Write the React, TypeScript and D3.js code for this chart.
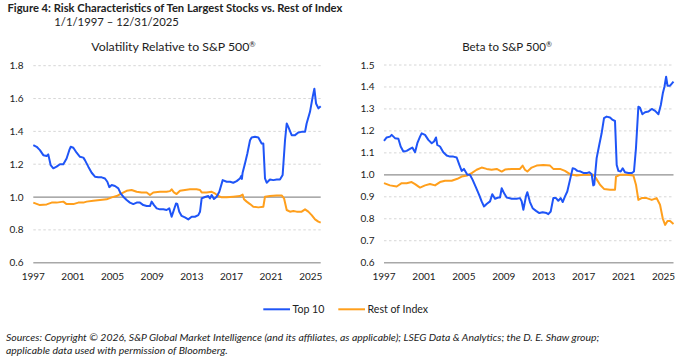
import React from "react";
import * as d3 from "d3";

// ---------- DATA ----------
const xTicks = [1997, 2001, 2005, 2009, 2013, 2017, 2021, 2025];
const volTicks = [0.6, 0.8, 1.0, 1.2, 1.4, 1.6, 1.8];
const betaTicks = [0.6, 0.7, 0.8, 0.9, 1.0, 1.1, 1.2, 1.3, 1.4, 1.5];

// Volatility relative to S&P 500 — Top 10
const volTopYears = [1997.0, 1997.34, 1997.67, 1998.01, 1998.35, 1998.51, 1998.75, 1999.02, 1999.35, 1999.69, 2000.03, 2000.36, 2000.63, 2000.77, 2001.04, 2001.37, 2001.71, 2002.05, 2002.21, 2002.55, 2002.89, 2003.22, 2003.56, 2003.9, 2004.23, 2004.47, 2004.67, 2004.91, 2005.24, 2005.58, 2005.81, 2006.08, 2006.42, 2006.75, 2007.09, 2007.43, 2007.76, 2008.1, 2008.44, 2008.77, 2008.94, 2009.18, 2009.45, 2009.78, 2010.12, 2010.45, 2010.72, 2010.96, 2011.13, 2011.4, 2011.53, 2011.73, 2011.97, 2012.3, 2012.64, 2012.98, 2013.31, 2013.65, 2013.82, 2013.99, 2014.32, 2014.66, 2014.83, 2015.0, 2015.23, 2015.5, 2015.77, 2016.11, 2016.51, 2016.85, 2017.18, 2017.52, 2017.85, 2018.0, 2018.05, 2018.12, 2018.36, 2018.6, 2018.87, 2019.03, 2019.37, 2019.71, 2020.04, 2020.21, 2020.38, 2020.55, 2020.88, 2021.22, 2021.56, 2021.89, 2022.16, 2022.4, 2022.57, 2022.73, 2023.07, 2023.41, 2023.74, 2024.08, 2024.42, 2024.58, 2024.92, 2025.19, 2025.36, 2025.53, 2025.77, 2026.0];
const volTopValues = [1.316, 1.306, 1.286, 1.255, 1.25, 1.26, 1.195, 1.175, 1.185, 1.2, 1.2, 1.235, 1.285, 1.306, 1.3, 1.27, 1.245, 1.24, 1.225, 1.185, 1.148, 1.124, 1.12, 1.12, 1.113, 1.093, 1.06, 1.073, 1.067, 1.053, 1.022, 1.002, 0.982, 0.966, 0.957, 0.966, 0.966, 0.951, 0.945, 0.945, 0.972, 0.951, 0.931, 0.925, 0.925, 0.921, 0.931, 0.88, 0.911, 0.961, 0.958, 0.911, 0.885, 0.876, 0.864, 0.88, 0.88, 0.89, 0.91, 0.992, 1.0, 1.006, 0.992, 1.012, 0.988, 1.002, 1.032, 1.103, 1.093, 1.093, 1.087, 1.097, 1.113, 1.13, 1.11, 1.148, 1.205, 1.265, 1.346, 1.363, 1.367, 1.363, 1.326, 1.326, 1.113, 1.087, 1.107, 1.103, 1.107, 1.107, 1.134, 1.346, 1.448, 1.427, 1.377, 1.377, 1.393, 1.397, 1.397, 1.448, 1.519, 1.61, 1.66, 1.57, 1.54, 1.553];

// Volatility relative to S&P 500 — Rest of Index
const volRestYears = [1997.0, 1997.67, 1998.35, 1998.85, 1999.35, 2000.03, 2000.36, 2001.04, 2001.54, 2002.05, 2002.38, 2003.05, 2003.73, 2004.4, 2004.91, 2005.41, 2005.91, 2006.42, 2006.92, 2007.43, 2007.93, 2008.44, 2008.77, 2009.11, 2009.78, 2010.45, 2010.79, 2010.96, 2011.19, 2011.46, 2011.8, 2012.3, 2012.81, 2013.48, 2013.82, 2013.99, 2014.49, 2015.0, 2015.33, 2015.67, 2016.01, 2016.51, 2017.18, 2017.85, 2018.12, 2018.26, 2018.53, 2018.87, 2019.2, 2019.71, 2020.21, 2020.38, 2020.88, 2021.56, 2022.06, 2022.3, 2022.57, 2022.9, 2023.24, 2023.57, 2024.08, 2024.42, 2024.75, 2025.09, 2025.43, 2025.76, 2026.0];
const volRestValues = [0.966, 0.951, 0.955, 0.966, 0.966, 0.972, 0.957, 0.957, 0.966, 0.966, 0.972, 0.978, 0.982, 0.986, 0.998, 1.006, 1.022, 1.038, 1.043, 1.032, 1.028, 1.028, 1.012, 1.028, 1.032, 1.032, 1.036, 1.047, 1.028, 1.018, 1.038, 1.043, 1.047, 1.047, 1.043, 1.028, 1.028, 1.032, 1.022, 1.006, 0.998, 0.998, 1.002, 1.006, 1.015, 0.986, 0.972, 0.957, 0.941, 0.937, 0.941, 1.002, 1.006, 1.01, 1.01, 0.992, 0.921, 0.911, 0.915, 0.911, 0.911, 0.925, 0.911, 0.89, 0.864, 0.85, 0.844];

// Beta to S&P 500 — Top 10
const betaTopYears = [1997.0, 1997.27, 1997.6, 1997.77, 1998.1, 1998.44, 1998.67, 1998.94, 1999.27, 1999.6, 1999.84, 2000.11, 2000.34, 2000.61, 2000.77, 2001.11, 2001.44, 2001.78, 2002.01, 2002.21, 2002.34, 2002.61, 2002.94, 2003.28, 2003.61, 2003.95, 2004.28, 2004.55, 2004.78, 2005.01, 2005.35, 2005.61, 2005.88, 2006.22, 2006.55, 2006.78, 2007.02, 2007.28, 2007.62, 2007.85, 2008.12, 2008.45, 2008.62, 2008.79, 2009.02, 2009.29, 2009.79, 2010.29, 2010.62, 2010.79, 2010.96, 2011.22, 2011.36, 2011.62, 2011.89, 2012.23, 2012.56, 2012.89, 2013.29, 2013.46, 2013.7, 2013.96, 2014.23, 2014.46, 2014.7, 2014.9, 2015.13, 2015.36, 2015.63, 2015.9, 2016.13, 2016.37, 2016.7, 2017.03, 2017.3, 2017.57, 2017.8, 2017.96, 2018.06, 2018.3, 2018.56, 2018.8, 2019.04, 2019.3, 2019.64, 2019.91, 2020.14, 2020.31, 2020.48, 2020.71, 2020.91, 2021.14, 2021.48, 2021.81, 2022.04, 2022.24, 2022.48, 2022.64, 2022.88, 2023.15, 2023.49, 2023.82, 2024.16, 2024.49, 2024.73, 2024.93, 2025.1, 2025.26, 2025.4, 2025.66, 2026.0];
const betaTopValues = [1.155, 1.17, 1.174, 1.182, 1.167, 1.164, 1.129, 1.106, 1.109, 1.118, 1.124, 1.103, 1.144, 1.174, 1.189, 1.182, 1.159, 1.144, 1.152, 1.17, 1.136, 1.129, 1.103, 1.088, 1.083, 1.083, 1.079, 1.045, 1.018, 1.027, 1.0, 1.0, 0.977, 0.942, 0.906, 0.879, 0.856, 0.867, 0.879, 0.912, 0.891, 0.897, 0.897, 0.939, 0.917, 0.897, 0.891, 0.891, 0.894, 0.88, 0.841, 0.902, 0.921, 0.876, 0.848, 0.836, 0.826, 0.83, 0.826, 0.821, 0.833, 0.894, 0.894, 0.882, 0.894, 0.876, 0.902, 0.924, 0.977, 1.03, 1.027, 1.018, 1.015, 1.008, 1.008, 1.012, 1.003, 0.952, 0.955, 1.076, 1.136, 1.189, 1.258, 1.265, 1.261, 1.25, 1.245, 1.045, 1.018, 1.015, 1.03, 1.012, 1.008, 1.008, 1.015, 1.121, 1.31, 1.306, 1.276, 1.285, 1.288, 1.3, 1.291, 1.276, 1.318, 1.371, 1.402, 1.447, 1.406, 1.406, 1.424];

// Beta to S&P 500 — Rest of Index
const betaRestYears = [1997.0, 1997.6, 1998.27, 1998.77, 1999.27, 1999.77, 2000.11, 2000.61, 2001.11, 2001.61, 2002.11, 2002.61, 2003.11, 2003.78, 2004.35, 2004.78, 2005.35, 2005.78, 2006.28, 2006.78, 2007.28, 2007.78, 2008.29, 2008.79, 2009.12, 2009.79, 2010.62, 2010.89, 2011.12, 2011.36, 2011.79, 2012.29, 2012.96, 2013.63, 2013.96, 2014.63, 2015.13, 2015.63, 2016.3, 2016.97, 2017.63, 2017.96, 2018.23, 2018.64, 2019.04, 2019.64, 2020.14, 2020.24, 2020.64, 2021.31, 2021.98, 2022.24, 2022.48, 2022.81, 2023.31, 2023.82, 2024.31, 2024.65, 2024.93, 2025.16, 2025.4, 2025.66, 2026.0];
const betaRestValues = [0.962, 0.952, 0.947, 0.962, 0.962, 0.967, 0.958, 0.942, 0.952, 0.958, 0.952, 0.967, 0.973, 0.973, 0.982, 0.992, 0.997, 1.008, 1.023, 1.033, 1.027, 1.023, 1.027, 1.015, 1.024, 1.027, 1.027, 1.042, 1.023, 1.015, 1.033, 1.042, 1.045, 1.042, 1.027, 1.027, 1.018, 1.003, 0.997, 1.0, 1.0, 1.0, 0.985, 0.955, 0.936, 0.932, 0.932, 0.992, 1.0, 1.0, 0.997, 0.955, 0.886, 0.894, 0.894, 0.886, 0.894, 0.864, 0.8, 0.772, 0.79, 0.79, 0.776];

const seriesNames = ["Top 10", "Rest of Index"];

// ---------- STYLE ----------
const BLUE = "#1f55f7";
const ORANGE = "#ff9f1c";
const FONT = "Lato, 'Noto Sans', sans-serif";

type Pt = [number, number];
const zip = (xs: number[], ys: number[]): Pt[] => xs.map((x, i) => [x, ys[i]]);

function Panel(props: {
  title: string;
  titleSize: number;
  x0: number;
  x1: number;
  y0: number;
  y1: number;
  yDomain: [number, number];
  ticks: number[];
  top: Pt[];
  rest: Pt[];
  labelX: number;
  titleX: number;
}) {
  const { title, titleSize, x0, x1, y0, y1, yDomain, ticks, top, rest, labelX, titleX } = props;
  const x = d3.scaleLinear().domain([1997, 2026]).range([x0, x1]);
  const y = d3.scaleLinear().domain(yDomain).range([y0, y1]);
  const line = d3
    .line<Pt>()
    .x((d) => x(d[0]))
    .y((d) => y(d[1]));
  return (
    <g>
      <text x={titleX} y={50.5} textAnchor="middle" fontSize={titleSize} fill="#222" fontFamily={FONT}>
        {title}
        <tspan fontSize={titleSize * 0.62} dy={-4}>®</tspan>
      </text>
      {ticks.map((t) => {
        const isBase = Math.abs(t - yDomain[0]) < 1e-9;
        const isOne = Math.abs(t - 1) < 1e-9;
        return (
          <g key={t}>
            {!isBase && !isOne && (
              <line x1={x0} x2={x1} y1={y(t)} y2={y(t)} stroke="#d6d6d6" strokeWidth={1} strokeDasharray="2.5,2.5" />
            )}
            <text x={labelX} y={y(t)} dy="0.35em" textAnchor="end" fontSize={10} fill="#222" fontFamily={FONT}>
              {t.toFixed(1)}
            </text>
          </g>
        );
      })}
      <line x1={x0} x2={x1} y1={y(1)} y2={y(1)} stroke="#8f8f8f" strokeWidth={1.2} />
      <line x1={x0} x2={x1} y1={y(yDomain[0])} y2={y(yDomain[0])} stroke="#a8a8a8" strokeWidth={1.5} />
      {xTicks.map((t) => (
        <text key={t} x={x(t)} y={279.5} textAnchor="middle" fontSize={10} fill="#222" fontFamily={FONT}>
          {t}
        </text>
      ))}
      <path d={line(rest) || ""} fill="none" stroke={ORANGE} strokeWidth={2} strokeLinejoin="round" />
      <path d={line(top) || ""} fill="none" stroke={BLUE} strokeWidth={2} strokeLinejoin="round" />
    </g>
  );
}

export default function App() {
  return (
    <svg
      width={682}
      height={361}
      style={{ position: "absolute", left: 0, top: 0, background: "#fff" }}
      fontFamily={FONT}
    >
      <rect width={682} height={361} fill="#fff" />
      <text x={7.5} y={11.8} fontSize={11.2} fontWeight="bold" fill="#222">
        Figure 4: Risk Characteristics of Ten Largest Stocks vs. Rest of Index
      </text>
      <text x={54.3} y={26.2} fontSize={11.3} fill="#222">
        1/1/1997 – 12/31/2025
      </text>
      <Panel
        title="Volatility Relative to S&P 500"
        titleSize={12.3}
        x0={33.3}
        x1={320.7}
        y0={262.7}
        y1={65.7}
        yDomain={[0.6, 1.8]}
        ticks={volTicks}
        top={zip(volTopYears, volTopValues)}
        rest={zip(volRestYears, volRestValues)}
        labelX={23.5}
        titleX={173.5}
      />
      <Panel
        title="Beta to S&P 500"
        titleSize={11.5}
        x0={384}
        x1={673.5}
        y0={262.7}
        y1={65}
        yDomain={[0.6, 1.5]}
        ticks={betaTicks}
        top={zip(betaTopYears, betaTopValues)}
        rest={zip(betaRestYears, betaRestValues)}
        labelX={374.5}
        titleX={507}
      />
      <line x1={263.3} x2={290} y1={309.3} y2={309.3} stroke={BLUE} strokeWidth={2} />
      <text x={292.5} y={313.3} fontSize={10.6} fill="#222">{seriesNames[0]}</text>
      <line x1={338.3} x2={365} y1={309.3} y2={309.3} stroke={ORANGE} strokeWidth={2} />
      <text x={367.5} y={313.3} fontSize={10.6} fill="#222">{seriesNames[1]}</text>
      <text x={6} y={340.5} fontSize={10.45} fontStyle="italic" fill="#222">
        Sources: Copyright © 2026, S&P Global Market Intelligence (and its affiliates, as applicable); LSEG Data & Analytics; the D. E. Shaw group;
      </text>
      <text x={6} y={353.5} fontSize={10.45} fontStyle="italic" fill="#222">
        applicable data used with permission of Bloomberg.
      </text>
    </svg>
  );
}
